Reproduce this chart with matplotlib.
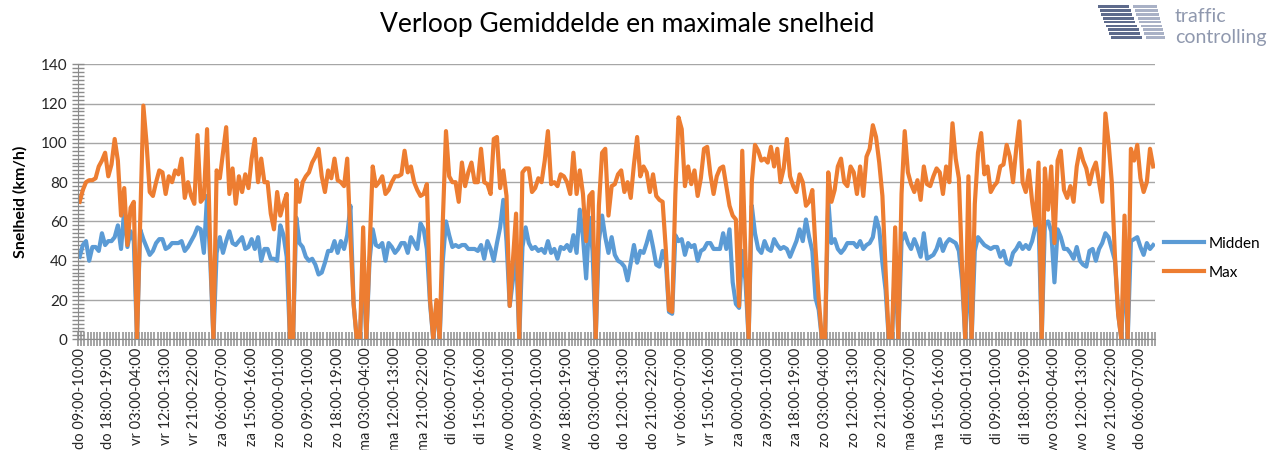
import numpy as np
import matplotlib.pyplot as plt
from matplotlib.ticker import MultipleLocator, FixedLocator

plt.rcParams['font.family'] = ['Lato', 'DejaVu Sans']

# categorie-as: uurvakken vanaf donderdag 09:00
dagen = ["do", "vr", "za", "zo", "ma", "di", "wo"]
start_uur = 9

midden = [
    42, 48, 50, 40, 47, 47, 45, 54, 48, 50, 50, 52, 58, 46, 66, 47, 55, 50, 0, 56,
    51, 47, 43, 45, 49, 51, 51, 46, 47, 49, 49, 49, 50, 45, 47, 50, 53, 57, 56, 44,
    73, 40, 0, 44, 52, 44, 50, 55, 49, 48, 50, 52, 46, 47, 51, 46, 52, 40, 46, 46,
    41, 41, 40, 58, 53, 42, 0, 0, 62, 49, 47, 42, 40, 41, 38, 33, 34, 39, 45, 45,
    50, 44, 50, 46, 53, 68, 18, 0, 0, 40, 0, 40, 56, 48, 47, 49, 40, 49, 47, 44,
    46, 49, 49, 44, 52, 49, 46, 59, 56, 46, 18, 0, 18, 0, 40, 60, 53, 47, 48, 47,
    48, 48, 46, 46, 46, 45, 48, 41, 50, 46, 40, 49, 57, 71, 50, 17, 30, 45, 0, 47,
    57, 49, 46, 47, 45, 46, 44, 50, 44, 46, 41, 47, 46, 48, 45, 53, 44, 66, 52, 31,
    62, 45, 0, 50, 63, 52, 44, 52, 43, 40, 39, 37, 30, 39, 48, 39, 45, 44, 49, 55,
    47, 38, 37, 45, 40, 14, 13, 53, 50, 51, 43, 49, 47, 48, 40, 45, 46, 49, 49, 46,
    46, 46, 54, 46, 56, 29, 18, 16, 45, 30, 0, 68, 54, 46, 44, 50, 46, 45, 51, 48,
    46, 47, 46, 42, 46, 50, 56, 50, 61, 52, 45, 21, 15, 0, 0, 71, 49, 51, 46, 44,
    46, 49, 49, 49, 47, 50, 46, 48, 49, 52, 62, 56, 39, 25, 0, 0, 40, 0, 50, 54,
    49, 46, 51, 47, 42, 54, 41, 42, 43, 46, 51, 45, 49, 51, 50, 49, 45, 30, 0, 40,
    0, 45, 52, 50, 48, 47, 46, 47, 47, 42, 45, 39, 38, 44, 46, 49, 46, 48, 46, 50,
    57, 61, 0, 59, 60, 55, 29, 56, 52, 46, 46, 44, 41, 47, 40, 38, 37, 45, 46, 40,
    46, 49, 54, 52, 46, 40, 13, 0, 40, 0, 50, 51, 52, 47, 43, 49, 46, 48,
]

maximum = [
    70, 76, 80, 81, 81, 82, 88, 91, 95, 83, 89, 102, 91, 63, 77, 48, 67, 70, 0, 60,
    119, 100, 75, 73, 80, 86, 85, 74, 83, 80, 86, 84, 92, 72, 80, 73, 69, 104, 70, 72,
    107, 46, 0, 86, 82, 95, 108, 74, 87, 69, 83, 75, 84, 77, 92, 102, 80, 92, 80, 80,
    64, 56, 75, 63, 69, 74, 0, 0, 81, 70, 80, 83, 85, 90, 93, 97, 83, 75, 86, 82,
    92, 81, 80, 78, 92, 52, 18, 0, 0, 57, 0, 45, 88, 78, 80, 83, 74, 76, 80, 83,
    83, 84, 96, 85, 88, 80, 76, 73, 74, 79, 20, 0, 20, 0, 60, 106, 83, 80, 80, 70,
    90, 78, 85, 90, 80, 80, 97, 80, 79, 74, 102, 103, 77, 86, 73, 17, 40, 64, 0, 85,
    87, 87, 75, 77, 82, 80, 91, 106, 79, 80, 78, 84, 83, 80, 74, 95, 74, 86, 74, 50,
    73, 75, 0, 68, 95, 97, 63, 78, 79, 84, 86, 75, 80, 72, 89, 103, 83, 88, 85, 75,
    84, 73, 71, 70, 46, 15, 14, 74, 113, 107, 78, 88, 79, 86, 73, 82, 97, 98, 84, 74,
    83, 87, 88, 78, 68, 63, 61, 17, 96, 42, 0, 80, 99, 96, 91, 92, 90, 98, 88, 97,
    80, 87, 102, 83, 78, 75, 84, 80, 68, 70, 76, 46, 21, 0, 0, 85, 70, 76, 88, 92,
    80, 78, 88, 85, 74, 88, 73, 93, 97, 109, 103, 90, 73, 35, 0, 0, 57, 0, 74, 106,
    85, 79, 75, 81, 71, 88, 79, 78, 83, 87, 85, 74, 88, 80, 110, 92, 82, 37, 0, 83,
    0, 69, 95, 105, 84, 88, 75, 78, 80, 88, 89, 99, 93, 80, 97, 111, 80, 75, 86, 70,
    58, 90, 0, 87, 66, 88, 49, 91, 96, 76, 72, 78, 70, 88, 97, 91, 87, 79, 86, 90,
    80, 70, 115, 100, 80, 42, 13, 0, 63, 0, 97, 91, 99, 82, 75, 80, 97, 88,
]

n = len(midden)
uren = [(start_uur + i) % 24 for i in range(n)]
labels = [f"{dagen[((start_uur + i) // 24) % 7]} {u:02d}:00-{(u + 1) % 24:02d}:00"
          for i, u in enumerate(uren)]
x = np.arange(n)

fig = plt.figure(figsize=(12.69, 4.5), dpi=100)
ax = fig.add_axes([0.0615, 0.246, 0.8485, 0.611])

grijs = '#A6A6A6'
ax.plot(x, midden, color='#5B9BD5', lw=3.0, label='Midden', solid_joinstyle='round')
ax.plot(x, maximum, color='#ED7D31', lw=3.0, label='Max', solid_joinstyle='round')

ax.set_xlim(-0.5, n - 0.5)
ax.set_ylim(0, 140)
ax.yaxis.set_major_locator(MultipleLocator(20))
ax.yaxis.set_minor_locator(MultipleLocator(2))
ax.grid(axis='y', color=grijs, lw=1)
ax.set_axisbelow(True)

ax.set_xticks(x[::9])
ax.set_xticklabels(labels[::9], rotation=90, fontsize=10.5, color='#262626')
ax.xaxis.set_minor_locator(FixedLocator(np.arange(-0.5, n, 1)))
ax.tick_params(axis='x', which='major', length=0, pad=6)
ax.tick_params(axis='x', which='minor', direction='inout', length=10, width=1.1, color='#8C8C8C')
ax.tick_params(axis='y', which='both', direction='inout', length=8, width=1, color='#8C8C8C',
               labelsize=11, labelcolor='#262626')

for s in ['top', 'right']:
    ax.spines[s].set_visible(False)
for s in ['left', 'bottom']:
    ax.spines[s].set_color('#8C8C8C')

ax.set_ylabel('Snelheid (km/h)', fontsize=11.5, fontweight='bold', labelpad=10)

ax.legend(loc='center left', bbox_to_anchor=(1.0, 0.295), frameon=False, fontsize=11,
          handlelength=2.6, handletextpad=0.3, labelspacing=1.0, borderaxespad=0.2)

fig.text(0.4945, 0.946, 'Verloop Gemiddelde en maximale snelheid', ha='center', va='center',
         fontsize=19, color='#000000')

# logo rechtsboven
logo = fig.add_axes([1097 / 1269, 1 - 40 / 450, 68 / 1269, 36 / 450])
logo.set_xlim(0, 68)
logo.set_ylim(36, 0)
logo.axis('off')
for k in range(9):
    y0 = 1 + k * 3.9
    verschuiving = k * 1.6
    logo.fill_between([1 + verschuiving, 32 + verschuiving], y0, y0 + 2.8, color='#5E6B8C', lw=0)
    logo.fill_between([36 + verschuiving, 60 + verschuiving * 0.6], y0, y0 + 2.8, color='#A9B1C6', lw=0)
fig.text(1175 / 1269, 1 - 17 / 450, 'traffic', fontsize=14, color='#8F98AE', va='center', ha='left')
fig.text(1175 / 1269, 1 - 37 / 450, 'controlling', fontsize=14, color='#8F98AE', va='center', ha='left')

fig.savefig('out.png', dpi=100)
